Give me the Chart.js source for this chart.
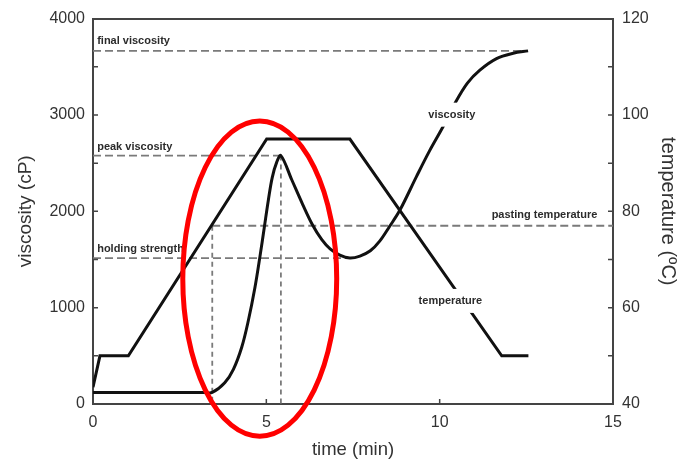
<!DOCTYPE html>
<html>
<head>
<meta charset="utf-8">
<title>Pasting profile</title>
<script src="https://cdn.jsdelivr.net/npm/chart.js@4/dist/chart.umd.min.js"></script>
<style>
  html, body { margin: 0; padding: 0; background: #fff; }
  canvas { display: block; }
</style>
</head>
<body>
<canvas id="chart" width="683" height="469"></canvas>
<script>
// Viscosity profile (cP) against time (min)
const viscTime  = [0, 3.2, 3.44, 3.8, 4.05, 4.29, 4.48, 4.67, 4.82, 4.94, 5.06, 5.17, 5.30, 5.42,
                   5.73, 6.05, 6.33, 6.60, 6.84, 7.12, 7.41, 7.70, 8.0, 8.27, 8.55, 8.85,
                   9.33, 9.7, 10.1, 10.44, 10.8, 11.16, 11.64, 12.12, 12.55];
const viscosity = [120, 120, 120, 220, 360, 589, 864, 1206, 1540, 1830, 2120, 2350, 2510, 2578,
                   2330, 2070, 1860, 1705, 1610, 1545, 1515, 1535, 1590, 1690, 1840, 2010,
                   2360, 2622, 2880, 3120, 3330, 3465, 3585, 3640, 3665];

// Temperature programme (°C) against time (min)
const tempTime    = [0, 0.2, 1.02, 5.01, 7.41, 11.79, 12.56];
const temperature = [43.5, 50, 50, 95, 95, 50, 50];

// Pasting point (time in min, temperature in °C)
const pastingTime = 3.44;
const pastingTemp = 77;

// Axis tick values
const timeTicks = [0, 5, 10, 15];
const viscTicks = [0, 1000, 2000, 3000, 4000];
const tempTicks = [40, 60, 80, 100, 120];
const viscMarks = [500, 1000, 1500, 2000, 2500, 3000, 3500];
const tempMarks = [50, 60, 70, 80, 90, 100, 110];
const timeMarks = [5, 10];

// Characteristic points derived from the viscosity profile
const peakIdx = viscosity.findIndex((v, i) => i > 0 && v > viscosity[i - 1] && v > viscosity[i + 1]);
const peakVisc = viscosity[peakIdx];
const peakTime = viscTime[peakIdx];
const troughIdx = viscosity.findIndex((v, i) => i > peakIdx && v < viscosity[i - 1] && v < viscosity[i + 1]);
const holdVisc = viscosity[troughIdx];
const holdTime = viscTime[troughIdx];
const finalVisc = viscosity[viscosity.length - 1];
const finalTime = viscTime[viscTime.length - 1];

const pts = (xs, ys) => xs.map((x, i) => ({ x, y: ys[i] }));

const FONT = '"Liberation Sans", Arial, Helvetica, sans-serif';
const AXIS = '#444';
const TEXT = '#333';
const DASH = '#7a7a7a';

Chart.defaults.font.family = FONT;
Chart.defaults.color = TEXT;

const dashed = (data, axis, dash) => ({
  data, yAxisID: axis, borderColor: DASH, borderWidth: 1.8, borderDash: dash,
  pointRadius: 0, tension: 0, fill: false, order: 5
});

const plain = v => String(v);

const decorations = {
  id: 'decorations',
  afterDatasetsDraw(chart) {
    const { ctx, scales: { x, y, yT } } = chart;
    ctx.save();
    // reference line labels
    ctx.font = 'bold 11px ' + FONT;
    ctx.fillStyle = '#2b2b2b';
    ctx.textBaseline = 'alphabetic';
    ctx.textAlign = 'left';
    ctx.fillText('final viscosity', x.getPixelForValue(0.12), y.getPixelForValue(finalVisc) - 7);
    ctx.fillText('peak viscosity', x.getPixelForValue(0.12), y.getPixelForValue(peakVisc) - 6);
    ctx.fillText('holding strength', x.getPixelForValue(0.12), y.getPixelForValue(holdVisc) - 6);
    ctx.textAlign = 'right';
    ctx.fillText('pasting temperature', x.getPixelForValue(14.55), yT.getPixelForValue(pastingTemp) - 8);

    // curve labels, set in a white gap of their curves
    const curveLabel = (text, px, py) => {
      const w = ctx.measureText(text).width;
      ctx.fillStyle = '#fff';
      ctx.fillRect(px - w / 2 - 2, py - 12, w + 4, 24);
      ctx.fillStyle = '#2b2b2b';
      ctx.textAlign = 'center';
      ctx.textBaseline = 'middle';
      ctx.fillText(text, px, py);
    };
    curveLabel('viscosity', x.getPixelForValue(10.35), y.getPixelForValue(3003));
    curveLabel('temperature', x.getPixelForValue(10.31), yT.getPixelForValue(61.4));
    ctx.restore();
  },
  afterDraw(chart) {
    const { ctx, chartArea: a, scales: { x, y, yT } } = chart;
    ctx.save();
    // inward tick marks
    ctx.strokeStyle = AXIS;
    ctx.lineWidth = 1.5;
    ctx.beginPath();
    viscMarks.forEach(v => { const p = y.getPixelForValue(v); ctx.moveTo(a.left, p); ctx.lineTo(a.left + 5, p); });
    tempMarks.forEach(v => { const p = yT.getPixelForValue(v); ctx.moveTo(a.right, p); ctx.lineTo(a.right - 5, p); });
    timeMarks.forEach(v => { const p = x.getPixelForValue(v); ctx.moveTo(p, a.bottom); ctx.lineTo(p, a.bottom - 5); });
    ctx.stroke();

    // highlight around the gelatinisation onset and peak
    const cx = x.getPixelForValue(4.81), cy = y.getPixelForValue(1301);
    const rx = x.getPixelForValue(4.81 + 2.22) - cx;
    const ry = cy - y.getPixelForValue(1301 + 1635);
    ctx.strokeStyle = '#ff0000';
    ctx.lineWidth = 5;
    ctx.beginPath();
    ctx.ellipse(cx, cy, rx, ry, 0, 0, Math.PI * 2);
    ctx.stroke();
    ctx.restore();
  }
};

new Chart(document.getElementById('chart'), {
  type: 'line',
  data: {
    datasets: [
      dashed([{ x: 0, y: finalVisc }, { x: finalTime, y: finalVisc }], 'y', [8, 4]),
      dashed([{ x: 0, y: peakVisc }, { x: peakTime, y: peakVisc }], 'y', [8, 4]),
      dashed([{ x: peakTime, y: peakVisc }, { x: peakTime, y: 0 }], 'y', [5, 4]),
      dashed([{ x: 0, y: holdVisc }, { x: holdTime, y: holdVisc }], 'y', [8, 4]),
      dashed([{ x: pastingTime, y: pastingTemp }, { x: 15, y: pastingTemp }], 'yT', [8, 4]),
      dashed([{ x: pastingTime, y: pastingTemp }, { x: pastingTime, y: 40 }], 'yT', [5, 4]),
      {
        label: 'temperature', data: pts(tempTime, temperature), yAxisID: 'yT',
        borderColor: '#111', borderWidth: 3, pointRadius: 0, tension: 0, fill: false, order: 1
      },
      {
        label: 'viscosity', data: pts(viscTime, viscosity), yAxisID: 'y',
        borderColor: '#111', borderWidth: 3, pointRadius: 0, tension: 0.35,
        fill: false, order: 0
      }
    ]
  },
  options: {
    responsive: false,
    animation: false,
    layout: { padding: 0 },
    plugins: { legend: { display: false }, tooltip: { enabled: false } },
    scales: {
      x: {
        type: 'linear', position: 'bottom', min: 0, max: 15,
        afterBuildTicks: s => { s.ticks = timeTicks.map(v => ({ value: v })); },
        ticks: { font: { size: 16 }, color: TEXT, padding: 9, maxRotation: 0, callback: plain },
        grid: { display: false, drawTicks: false },
        border: { display: true, color: AXIS, width: 2 },
        title: { display: true, text: 'time (min)', font: { size: 18.5 }, color: TEXT, padding: { top: 0, bottom: 8 } },
        afterFit: s => { s.height = 65; }
      },
      x2: {
        type: 'linear', position: 'top', min: 0, max: 15,
        ticks: { display: false },
        grid: { display: false, drawTicks: false },
        border: { display: true, color: AXIS, width: 2 },
        afterFit: s => { s.height = 15; }
      },
      y: {
        type: 'linear', position: 'left', min: 0, max: 4000,
        afterBuildTicks: s => { s.ticks = viscTicks.map(v => ({ value: v })); },
        ticks: { font: { size: 16 }, color: TEXT, padding: 8, callback: plain },
        grid: { display: false, drawTicks: false },
        border: { display: true, color: AXIS, width: 2 },
        title: { display: true, text: 'viscosity (cP)', font: { size: 19 }, color: TEXT, padding: { top: 14, bottom: 0 } },
        afterFit: s => { s.width = 93; }
      },
      yT: {
        type: 'linear', position: 'right', min: 40, max: 120,
        afterBuildTicks: s => { s.ticks = tempTicks.map(v => ({ value: v })); },
        ticks: { font: { size: 16 }, color: TEXT, padding: 9, callback: plain },
        grid: { display: false, drawTicks: false },
        border: { display: true, color: AXIS, width: 2 },
        title: { display: true, text: 'temperature (ºC)', font: { size: 20 }, color: TEXT, padding: { top: 3, bottom: 0 } },
        afterFit: s => { s.width = 70; }
      }
    }
  },
  plugins: [decorations]
});
</script>
</body>
</html>
